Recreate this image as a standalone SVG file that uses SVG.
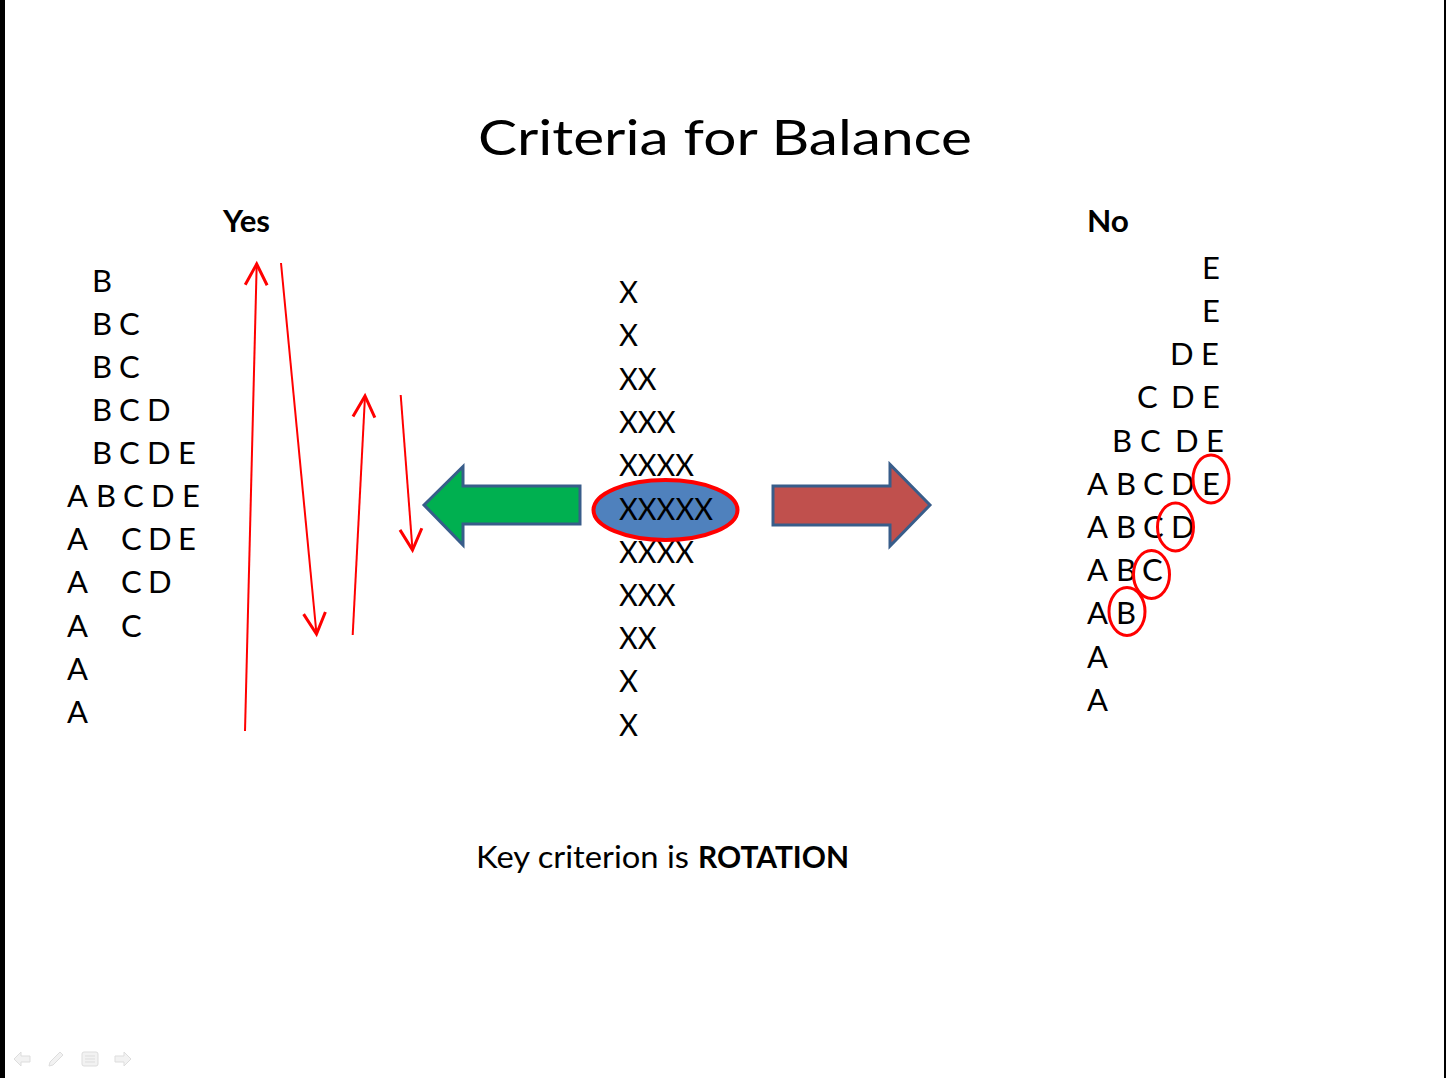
<svg xmlns="http://www.w3.org/2000/svg" width="1446" height="1078" viewBox="0 0 1446 1078">
  <defs>
    <style>
      .t { font-family: Lato, "Open Sans", "Liberation Sans", sans-serif; fill: #000; }
      .let { font-size: 31px; }
      .head { font-size: 31px; font-weight: bold; }
      .title { font-size: 48px; }
      .red { stroke: #FF0000; stroke-width: 2; fill: none; }
      .ring { stroke: #FF0000; stroke-width: 3; fill: none; }
      .icon { fill: #F2F2F2; stroke: #DDDDDD; stroke-width: 1; }
    </style>
    <marker id="vhead" markerUnits="userSpaceOnUse" markerWidth="30" markerHeight="30" viewBox="-16 -10 20 20" refX="0" refY="0" orient="auto">
      <path d="M-14,-7.3 L0,0 L-14,7.3" fill="none" stroke="#FF0000" stroke-width="2"/>
    </marker>
  </defs>
  <rect x="0" y="0" width="1446" height="1078" fill="#FFFFFF"/>
  <rect x="0" y="0" width="5" height="1078" fill="#000000"/>
  <rect x="1444" y="0" width="2" height="1078" fill="#000000"/>

  <g id="title"><text class="t title" x="478" y="155" textLength="494" lengthAdjust="spacingAndGlyphs">Criteria for Balance</text></g>
  <g id="yes-label"><text class="t head" x="223" y="232" textLength="47" lengthAdjust="spacingAndGlyphs">Yes</text></g>
  <g id="no-label"><text class="t head" x="1087" y="232" textLength="42" lengthAdjust="spacingAndGlyphs">No</text></g>

  <g id="yes-column" class="t let">
    <text x="92" y="292">B</text>
    <text x="92 106 119" y="335">B C</text>
    <text x="92 106 119" y="378">B C</text>
    <text x="92 106 119 134 147" y="421">B C D</text>
    <text x="92 106 119 134 147 164 178" y="464">B C D E</text>
    <text x="67 82 96 110 123 138 151 168 182" y="507">A B C D E</text>
    <text x="67 95 121 135 148 164 178" y="550">A C D E</text>
    <text x="67 95 121 135 148" y="593">A C D</text>
    <text x="67 95 121" y="637">A C</text>
    <text x="67" y="680">A</text>
    <text x="67" y="723">A</text>
  </g>

  <g id="center-column" class="t let">
    <text x="619" y="303" textLength="19" lengthAdjust="spacingAndGlyphs">X</text>
    <text x="619" y="346" textLength="19" lengthAdjust="spacingAndGlyphs">X</text>
    <text x="619" y="390" textLength="37.5" lengthAdjust="spacingAndGlyphs">XX</text>
    <text x="619" y="433" textLength="56.5" lengthAdjust="spacingAndGlyphs">XXX</text>
    <text x="619" y="476" textLength="75" lengthAdjust="spacingAndGlyphs">XXXX</text>
    <text x="619" y="563" textLength="75" lengthAdjust="spacingAndGlyphs">XXXX</text>
    <text x="619" y="606" textLength="56.5" lengthAdjust="spacingAndGlyphs">XXX</text>
    <text x="619" y="649" textLength="37.5" lengthAdjust="spacingAndGlyphs">XX</text>
    <text x="619" y="692" textLength="19" lengthAdjust="spacingAndGlyphs">X</text>
    <text x="619" y="736" textLength="19" lengthAdjust="spacingAndGlyphs">X</text>
  </g>

  <g id="center-ellipse">
    <ellipse cx="665.5" cy="510" rx="72" ry="30" fill="#4F81BD" stroke="#FF0000" stroke-width="4"/>
    <text class="t let" x="619" y="520" textLength="94" lengthAdjust="spacingAndGlyphs">XXXXX</text>
  </g>

  <g id="green-arrow">
    <path d="M424,505 L463,466.5 L463,486 L580,486 L580,524 L463,524 L463,545 Z" fill="#00B050" stroke="#385D8A" stroke-width="3" stroke-linejoin="miter"/>
  </g>
  <g id="red-arrow">
    <path d="M930,505 L890,464.5 L890,486 L773,486 L773,525 L890,525 L890,546 Z" fill="#C0504D" stroke="#385D8A" stroke-width="3" stroke-linejoin="miter"/>
  </g>

  <g id="no-column" class="t let">
    <text x="1202" y="279">E</text>
    <text x="1202" y="322">E</text>
    <text x="1170 1186 1201" y="365">D E</text>
    <text x="1137 1155 1171 1188 1202" y="408">C D E</text>
    <text x="1112 1127 1140 1159 1175 1193 1206" y="452">B C D E</text>
    <text x="1087 1103 1116 1131 1143 1159 1171 1190 1202" y="495">A B C D E</text>
    <text x="1087 1103 1116 1131 1143 1159 1171" y="538">A B C D</text>
    <text x="1087 1103 1116 1131 1142" y="581">A B C</text>
    <text x="1087 1103 1116" y="624">A B</text>
    <text x="1087" y="668">A</text>
    <text x="1087" y="711">A</text>
  </g>

  <g id="circles">
    <ellipse class="ring" cx="1211" cy="479" rx="18" ry="24"/>
    <ellipse class="ring" cx="1175.5" cy="527" rx="18" ry="24"/>
    <ellipse class="ring" cx="1151.5" cy="574.5" rx="18" ry="24"/>
    <ellipse class="ring" cx="1127" cy="611.5" rx="18" ry="24"/>
  </g>

  <g id="connectors">
    <line class="red" x1="245" y1="731" x2="256.7" y2="264" marker-end="url(#vhead)"/>
    <line class="red" x1="281" y1="263" x2="316.5" y2="634" marker-end="url(#vhead)"/>
    <line class="red" x1="352.7" y1="635" x2="365" y2="396" marker-end="url(#vhead)"/>
    <line class="red" x1="400.7" y1="395" x2="412.5" y2="550" marker-end="url(#vhead)"/>
  </g>

  <g id="key-criterion">
    <text class="t let" y="868"><tspan x="476" textLength="213" lengthAdjust="spacingAndGlyphs">Key criterion is</tspan><tspan x="698" font-weight="bold" textLength="151" lengthAdjust="spacingAndGlyphs">ROTATION</tspan></text>
  </g>

  <g id="footer-icons">
    <path class="icon" d="M14,1059 L21,1052 L21,1056 L30,1056 L30,1062 L21,1062 L21,1066 Z"/>
    <path class="icon" d="M49,1066 L50,1062 L60,1052 L63,1055 L53,1065 Z"/>
    <rect class="icon" x="82" y="1052" width="16" height="14" rx="2"/>
    <path d="M85,1056 H95 M85,1059 H95 M85,1062 H95" stroke="#DDDDDD" stroke-width="1"/>
    <path class="icon" d="M131,1059 L124,1052 L124,1056 L115,1056 L115,1062 L124,1062 L124,1066 Z"/>
  </g>
</svg>
